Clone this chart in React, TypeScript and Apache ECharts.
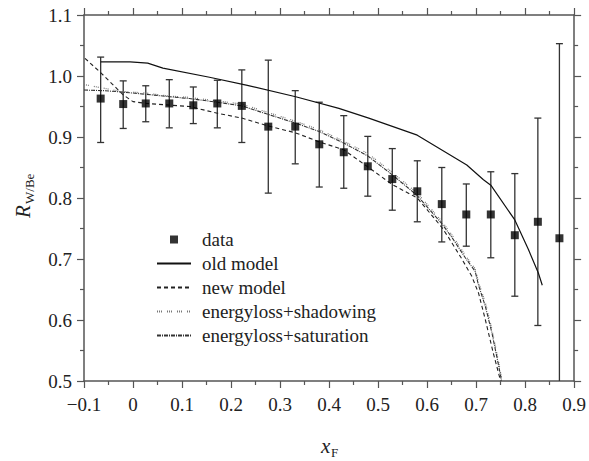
import React, { useEffect, useRef } from "react";
import * as echarts from "echarts";

// Measured data points (x_F, R_W/Be) with error bar bounds
const xF = [-0.066, -0.02, 0.026, 0.074, 0.123, 0.172, 0.222, 0.276, 0.331, 0.38, 0.43, 0.479, 0.529, 0.58, 0.63, 0.68, 0.73, 0.779, 0.826, 0.87];
const ratio = [0.963, 0.954, 0.955, 0.955, 0.952, 0.955, 0.951, 0.917, 0.917, 0.888, 0.875, 0.852, 0.831, 0.811, 0.79, 0.773, 0.773, 0.739, 0.761, 0.734];
const errLow = [0.891, 0.914, 0.925, 0.915, 0.922, 0.915, 0.891, 0.808, 0.856, 0.818, 0.816, 0.803, 0.78, 0.761, 0.728, 0.721, 0.702, 0.639, 0.591, 0.41];
const errHigh = [1.031, 0.992, 0.984, 0.994, 0.982, 0.993, 1.01, 1.026, 0.976, 0.957, 0.935, 0.901, 0.881, 0.861, 0.85, 0.823, 0.843, 0.84, 0.931, 1.053];

// Model curves
const oldModel = [[-0.066, 1.023], [-0.006, 1.023], [0.03, 1.021], [0.061, 1.013], [0.156, 0.998], [0.231, 0.985], [0.332, 0.966], [0.42, 0.947], [0.481, 0.931], [0.58, 0.903], [0.681, 0.854], [0.715, 0.83], [0.73, 0.821], [0.779, 0.764], [0.807, 0.715], [0.827, 0.677], [0.835, 0.657]];
const newModel = [[-0.098, 1.029], [-0.064, 1.004], [-0.04, 0.985], [-0.02, 0.969], [0, 0.958], [0.027, 0.955], [0.115, 0.95], [0.172, 0.939], [0.222, 0.931], [0.276, 0.918], [0.331, 0.907], [0.38, 0.892], [0.43, 0.879], [0.479, 0.851], [0.529, 0.822], [0.58, 0.8], [0.63, 0.752], [0.644, 0.735], [0.671, 0.7], [0.691, 0.672], [0.705, 0.644], [0.719, 0.6], [0.735, 0.546], [0.75, 0.5]];
const shadowing = [[-0.1, 0.986], [-0.06, 0.98], [-0.027, 0.975], [0.027, 0.972], [0.075, 0.967], [0.115, 0.965], [0.172, 0.959], [0.222, 0.954], [0.276, 0.94], [0.331, 0.926], [0.38, 0.912], [0.43, 0.893], [0.479, 0.873], [0.529, 0.842], [0.58, 0.808], [0.63, 0.762], [0.651, 0.739], [0.678, 0.706], [0.698, 0.684], [0.705, 0.662], [0.719, 0.628], [0.732, 0.586], [0.746, 0.531], [0.753, 0.5]];
const saturation = [[-0.1, 0.977], [-0.06, 0.976], [-0.027, 0.974], [0.027, 0.97], [0.075, 0.966], [0.115, 0.963], [0.172, 0.957], [0.222, 0.951], [0.276, 0.937], [0.331, 0.923], [0.38, 0.909], [0.43, 0.89], [0.479, 0.869], [0.529, 0.838], [0.58, 0.804], [0.63, 0.758], [0.651, 0.735], [0.678, 0.702], [0.698, 0.68], [0.705, 0.657], [0.719, 0.622], [0.732, 0.58], [0.746, 0.525], [0.752, 0.5]];

const legendNames = ["data", "old model", "new model", "energyloss+shadowing", "energyloss+saturation"];

const FONT = "Liberation Serif";
const AXIS_COLOR = "#555";
const TEXT_COLOR = "#222";

export default function App() {
  const ref = useRef<HTMLDivElement>(null);
  useEffect(() => {
    if (!ref.current) return;
    const chart = echarts.init(ref.current, undefined, { renderer: "svg" });

    const xFmt = (v: number) => {
      if (Math.abs(v) < 1e-9) return "0";
      return (v < 0 ? "\u2212" : "") + Math.abs(v).toFixed(1);
    };
    const baseAxis = {
      axisLine: { show: true, onZero: false, lineStyle: { color: AXIS_COLOR, width: 1.5 } },
      axisTick: { show: true, inside: false, length: 7, lineStyle: { color: AXIS_COLOR, width: 1.2 } },
      minorTick: { show: true, splitNumber: 2, length: 4, lineStyle: { color: AXIS_COLOR, width: 1.2 } },
      splitLine: { show: false },
    };

    const dataPts = xF.map((x, i) => [x, ratio[i]]);
    const errData = xF.map((x, i) => [x, errLow[i], errHigh[i]]);
    const hideSym = { opacity: 0 };

    chart.setOption({
      animation: false,
      backgroundColor: "#fff",
      textStyle: { fontFamily: FONT },
      grid: { left: 84, top: 15, right: 13, bottom: 80, containLabel: false },
      xAxis: [
        {
          type: "value", min: -0.1, max: 0.9, interval: 0.1, position: "bottom",
          ...baseAxis,
          axisLabel: { show: true, formatter: xFmt, fontFamily: FONT, fontSize: 19, color: TEXT_COLOR, margin: 14 },
        },
        {
          type: "value", min: -0.1, max: 0.9, interval: 0.1, position: "top",
          ...baseAxis,
          axisLabel: { show: false },
        },
      ],
      yAxis: [
        {
          type: "value", min: 0.5, max: 1.1, interval: 0.1, position: "left",
          ...baseAxis,
          axisLabel: { show: true, formatter: (v: number) => v.toFixed(1), fontFamily: FONT, fontSize: 19, color: TEXT_COLOR, margin: 12 },
        },
        {
          type: "value", min: 0.5, max: 1.1, interval: 0.1, position: "right",
          ...baseAxis,
          axisLabel: { show: false },
        },
      ],
      legend: {
        show: true,
        orient: "vertical",
        left: 156,
        top: 230,
        padding: 0,
        itemWidth: 34,
        itemHeight: 8,
        itemGap: 5,
        symbolKeepAspect: true,
        textStyle: { fontFamily: FONT, fontSize: 19, color: TEXT_COLOR, padding: [0, 0, 0, 6] },
        data: [
          { name: legendNames[0], icon: "path://M0,0H10V10H0Z" },
          { name: legendNames[1], itemStyle: hideSym },
          { name: legendNames[2], itemStyle: hideSym },
          { name: legendNames[3], itemStyle: hideSym },
          { name: legendNames[4], itemStyle: hideSym },
        ],
      },
      series: [
        {
          name: "errors",
          type: "custom",
          xAxisIndex: 0,
          yAxisIndex: 0,
          data: errData,
          z: 3,
          renderItem: (params: any, api: any) => {
            const x = api.value(0);
            const lo = api.value(1);
            const hi = api.value(2);
            const cs = params.coordSys;
            const pLo = api.coord([x, lo]);
            const pHi = api.coord([x, hi]);
            const top = cs.y;
            const bottom = cs.y + cs.height;
            const yHi = Math.max(pHi[1], top);
            const yLo = Math.min(pLo[1], bottom);
            const half = 3.5;
            const style = { stroke: "#333", lineWidth: 1.3 };
            const children: any[] = [
              { type: "line", shape: { x1: pHi[0], y1: yHi, x2: pHi[0], y2: yLo }, style },
            ];
            if (pHi[1] >= top) children.push({ type: "line", shape: { x1: pHi[0] - half, y1: yHi, x2: pHi[0] + half, y2: yHi }, style });
            if (pLo[1] <= bottom) children.push({ type: "line", shape: { x1: pLo[0] - half, y1: yLo, x2: pLo[0] + half, y2: yLo }, style });
            return { type: "group", children };
          },
        },
        {
          name: legendNames[0],
          type: "scatter",
          xAxisIndex: 0,
          yAxisIndex: 0,
          symbol: "rect",
          symbolSize: 8,
          itemStyle: { color: "#000" },
          data: dataPts,
          z: 5,
        },
        {
          name: legendNames[1],
          type: "line",
          xAxisIndex: 0,
          yAxisIndex: 0,
          data: oldModel,
          symbol: "none",
          showSymbol: false,
          lineStyle: { color: "#111", width: 1.2, type: "solid" },
          itemStyle: { color: "#111" },
          z: 4,
        },
        {
          name: legendNames[2],
          type: "line",
          xAxisIndex: 0,
          yAxisIndex: 0,
          data: newModel,
          symbol: "none",
          showSymbol: false,
          lineStyle: { color: "#222", width: 1.1, type: [4, 3] },
          itemStyle: { color: "#222" },
          z: 4,
        },
        {
          name: legendNames[3],
          type: "line",
          xAxisIndex: 0,
          yAxisIndex: 0,
          data: shadowing,
          symbol: "none",
          showSymbol: false,
          lineStyle: { color: "#777", width: 1.2, type: [1, 1, 1, 1, 1, 5] },
          itemStyle: { color: "#777" },
          z: 4,
        },
        {
          name: legendNames[4],
          type: "line",
          xAxisIndex: 0,
          yAxisIndex: 0,
          data: saturation,
          symbol: "none",
          showSymbol: false,
          lineStyle: { color: "#333", width: 1.1, type: [4, 1, 1, 1] },
          itemStyle: { color: "#333" },
          z: 4,
        },
      ],
      graphic: [
        {
          type: "group",
          x: 23,
          y: 196,
          rotation: Math.PI / 2,
          children: [
            { type: "text", x: -22, y: 0, style: { text: "R", fontFamily: FONT, fontStyle: "italic", fontSize: 21, fill: TEXT_COLOR, align: "left", verticalAlign: "middle" } },
            { type: "text", x: -8, y: 6, style: { text: "W/Be", fontFamily: FONT, fontSize: 13, fill: TEXT_COLOR, align: "left", verticalAlign: "middle" } },
          ],
        },
        { type: "text", x: 321, y: 446, style: { text: "x", fontFamily: FONT, fontStyle: "italic", fontSize: 21, fill: TEXT_COLOR, align: "left", verticalAlign: "middle" } },
        { type: "text", x: 331, y: 452, style: { text: "F", fontFamily: FONT, fontSize: 13, fill: TEXT_COLOR, align: "left", verticalAlign: "middle" } },
      ],
    });

    return () => chart.dispose();
  }, []);

  return <div ref={ref} style={{ position: "fixed", left: 0, top: 0, width: 589, height: 461, background: "#fff" }} />;
}
